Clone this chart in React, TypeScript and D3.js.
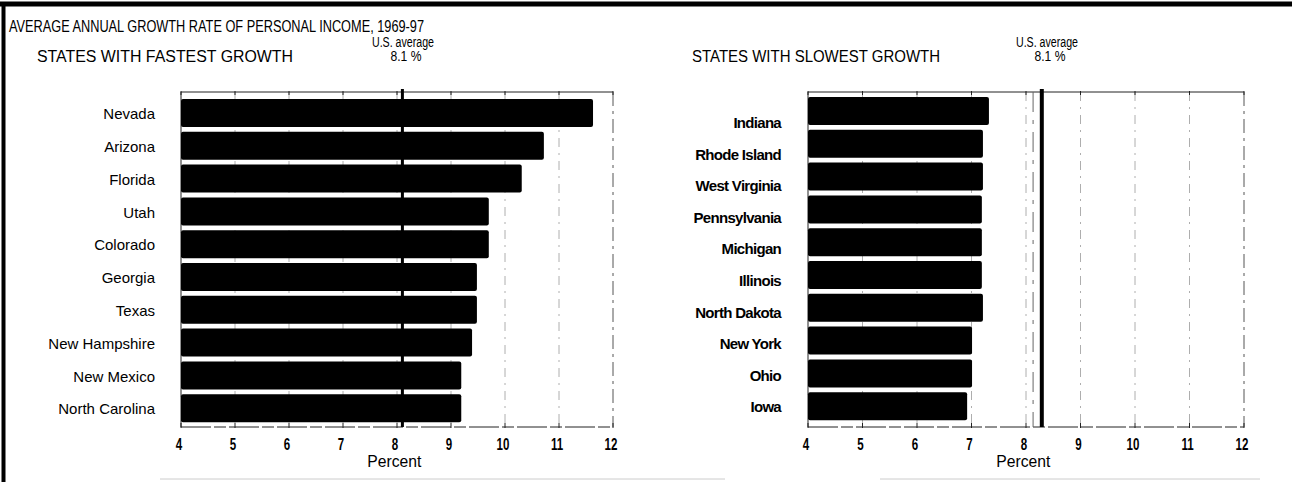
import React from "react";
import * as d3 from "d3";

const title = "AVERAGE ANNUAL GROWTH RATE OF PERSONAL INCOME, 1969-97";
const fastTitle = "STATES WITH FASTEST GROWTH";
const slowTitle = "STATES WITH SLOWEST GROWTH";
const fastStates = ["Nevada", "Arizona", "Florida", "Utah", "Colorado", "Georgia", "Texas", "New Hampshire", "New Mexico", "North Carolina"];
const fastValues = [11.63, 10.72, 10.31, 9.7, 9.7, 9.48, 9.48, 9.39, 9.19, 9.19];
const slowStates = ["Indiana", "Rhode Island", "West Virginia", "Pennsylvania", "Michigan", "Illinois", "North Dakota", "New York", "Ohio", "Iowa"];
const slowValues = [7.32, 7.21, 7.21, 7.19, 7.19, 7.19, 7.21, 7.01, 7.01, 6.92];
const tickValues = [4, 5, 6, 7, 8, 9, 10, 11, 12];
const usAverage = 8.1;
const usAverageLabel = "8.1 %";
// where the printed average rule sits in each panel
const fastAvgLine = 8.1;
const slowAvgLine = 8.29;
const slowThinLine = 8.13;

const FONT = "'Liberation Sans', Arial, Helvetica, sans-serif";

function Panel(props: any) {
  const { states, values, x0, x1, barTop, labelX, labelBold, labelRange, avgLine, avgWidth, thinLine, heading, headingX, headingLen, avgLabelX } = props;
  const x = d3.scaleLinear().domain([4, 12]).range([x0, x1]);
  const y = d3.scaleBand<string>().domain(states).range([barTop, barTop + 32.8 * 10 - 4.8]).paddingInner(0.146).paddingOuter(0);
  const labelY = labelRange
    ? d3.scalePoint<string>().domain(states).range(labelRange)
    : null;
  const plotTop = 92;
  const plotBottom = 427;
  return (
    <g>
      {/* heading */}
      <text x={headingX} y={62} fontSize={16} textLength={headingLen} lengthAdjust="spacingAndGlyphs" fontFamily={FONT}>{heading}</text>
      <text x={avgLabelX} y={47} fontSize={14} textAnchor="middle" fontFamily={FONT} textLength={62} lengthAdjust="spacingAndGlyphs">U.S. average</text>
      <text x={avgLabelX + 3} y={61} fontSize={14} textAnchor="middle" fontFamily={FONT} textLength={31} lengthAdjust="spacingAndGlyphs">{usAverageLabel}</text>
      {/* gridlines */}
      {tickValues.slice(1, -1).map((t) => (
        <line key={"g" + t} x1={x(t)} x2={x(t)} y1={plotTop} y2={plotBottom} stroke="#999" strokeWidth={0.8} strokeDasharray="9 6 2 6" />
      ))}
      {/* frame */}
      <line x1={x0} x2={x1} y1={plotTop} y2={plotTop} stroke="#222" strokeWidth={1} />
      <line x1={x0} x2={x1} y1={plotBottom} y2={plotBottom} stroke="#222" strokeWidth={1} strokeDasharray="30 3 12 3" />
      <line x1={x1} x2={x1} y1={plotTop} y2={plotBottom} stroke="#555" strokeWidth={1} strokeDasharray="14 5 3 5" />
      <line x1={x0} x2={x0} y1={plotTop} y2={plotBottom} stroke="#222" strokeWidth={1} />
      {tickValues.map((t) => (
        <g key={"tk" + t}>
          <line x1={x(t)} x2={x(t)} y1={plotTop - 1} y2={plotTop + 3} stroke="#222" strokeWidth={1} />
          <line x1={x(t)} x2={x(t)} y1={plotBottom - 4} y2={plotBottom + 1} stroke="#222" strokeWidth={1} />
        </g>
      ))}
      {thinLine != null && (
        <line x1={x(thinLine)} x2={x(thinLine)} y1={plotTop} y2={plotBottom} stroke="#666" strokeWidth={1} strokeDasharray="20 8 4 8" />
      )}
      {/* average rule */}
      <line x1={x(avgLine)} x2={x(avgLine)} y1={plotTop - 3} y2={plotBottom} stroke="#000" strokeWidth={avgWidth} />
      {/* bars */}
      {states.map((s: string, i: number) => (
        <rect key={s} x={x(4)} y={y(s)} width={x(values[i]) - x(4)} height={y.bandwidth()} rx={2} fill="#000" />
      ))}
      {/* state labels */}
      {states.map((s: string) => (
        <text key={"l" + s} x={labelX} y={labelY ? labelY(s)! : (y(s)! + y.bandwidth() / 2 + 1)} dy="0.35em" textAnchor="end"
          fontSize={15} fontWeight={labelBold ? "bold" : "normal"} letterSpacing={labelBold ? -0.7 : 0} fontFamily={FONT}>{s}</text>
      ))}
      {/* tick labels */}
      {tickValues.map((t) => (
        <g key={"tl" + t} transform={`translate(${x(t) - 2},${450}) scale(0.68,1)`}>
          <text textAnchor="middle" fontSize={17} fontWeight="bold" fontFamily={FONT}>{t}</text>
        </g>
      ))}
      <text x={x(7.95)} y={467} textAnchor="middle" fontSize={16} fontFamily={FONT} textLength={54} lengthAdjust="spacingAndGlyphs">Percent</text>
    </g>
  );
}

export default function App() {
  return (
    <svg width={1292} height={482} style={{ position: "absolute", left: 0, top: 0, background: "#fff" }}>
      <rect x={0} y={0} width={1292} height={482} fill="#fff" />
      {/* frame */}
      <line x1={0} x2={1292} y1={4} y2={4} stroke="#000" strokeWidth={5} />
      <line x1={3.5} x2={3.5} y1={2} y2={482} stroke="#000" strokeWidth={4} />
      <line x1={160} x2={725} y1={479} y2={479} stroke="#ccc" strokeWidth={1} />
      <line x1={880} x2={1260} y1={479} y2={479} stroke="#ccc" strokeWidth={1} />
      <text x={9} y={32} fontSize={16} textLength={415} lengthAdjust="spacingAndGlyphs" fontFamily={FONT}>{title}</text>
      <Panel states={fastStates} values={fastValues} x0={181} x1={613} barTop={99} labelX={155} labelBold={false} labelRange={null}
        avgLine={fastAvgLine} avgWidth={3} thinLine={null} heading={fastTitle} headingX={37} headingLen={256} avgLabelX={403} />
      <Panel states={slowStates} values={slowValues} x0={808} x1={1244} barTop={97} labelX={781} labelBold={true} labelRange={[123, 407]}
        avgLine={slowAvgLine} avgWidth={4} thinLine={slowThinLine} heading={slowTitle} headingX={692} headingLen={248} avgLabelX={1047} />
    </svg>
  );
}
